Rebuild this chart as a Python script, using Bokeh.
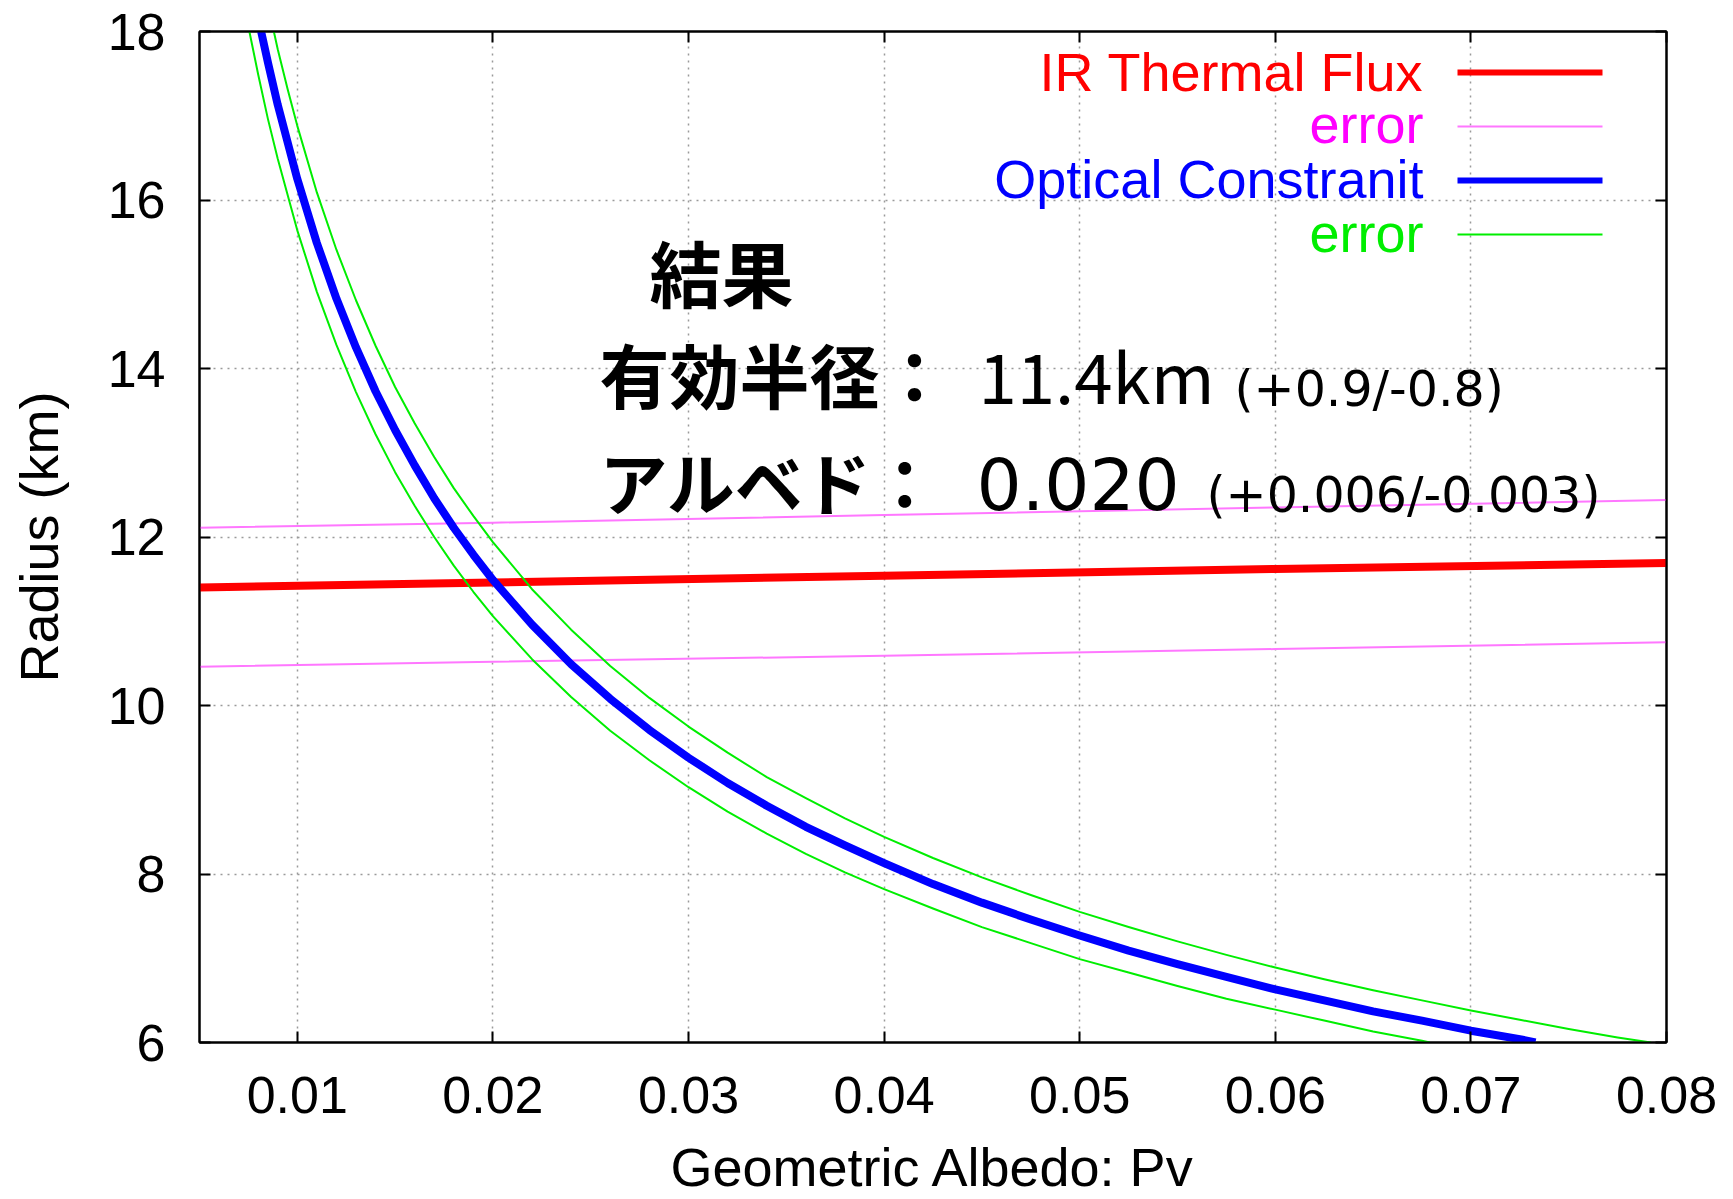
from bokeh.plotting import figure
from bokeh.models import Range1d, FixedTicker, LinearAxis, Label
from bokeh.embed import file_html
from bokeh.resources import INLINE

# ---------------- data ----------------
x_ticks = [0.01, 0.02, 0.03, 0.04, 0.05, 0.06, 0.07, 0.08]
y_ticks = [6, 8, 10, 12, 14, 16, 18]
x_title = "Geometric Albedo: Pv"
y_title = "Radius (km)"

# IR thermal flux solution and its error band
ir_pv = [0.005, 0.02, 0.04, 0.06, 0.08]
ir_radius = [11.40, 11.46, 11.54, 11.62, 11.69]
ir_err_hi = [12.11, 12.17, 12.26, 12.35, 12.44]
ir_err_lo = [10.46, 10.52, 10.59, 10.67, 10.75]

# Optical constraint curve
opt_pv = [0.00815, 0.0085, 0.009, 0.010, 0.011, 0.012, 0.013, 0.014, 0.015, 0.016,
          0.017, 0.018, 0.019, 0.020, 0.022, 0.024, 0.026, 0.028, 0.030, 0.032,
          0.034, 0.036, 0.038, 0.040, 0.0425, 0.045, 0.0475, 0.050, 0.0525, 0.055,
          0.0575, 0.060, 0.0625, 0.065, 0.0675, 0.070, 0.0725, 0.0733]
opt_radius = [18.00, 17.63, 17.13, 16.25, 15.49, 14.83, 14.25, 13.73, 13.27, 12.85,
              12.46, 12.11, 11.79, 11.49, 10.96, 10.49, 10.08, 9.71, 9.38, 9.08,
              8.81, 8.56, 8.34, 8.13, 7.88, 7.66, 7.46, 7.27, 7.09, 6.93,
              6.78, 6.63, 6.50, 6.37, 6.26, 6.14, 6.04, 6.00]

# Optical constraint error curves
opt_lo_pv = [0.00755, 0.008, 0.0085, 0.009, 0.010, 0.011, 0.012, 0.013, 0.014, 0.015,
             0.016, 0.017, 0.018, 0.019, 0.020, 0.022, 0.024, 0.026, 0.028, 0.030,
             0.032, 0.034, 0.036, 0.038, 0.040, 0.0425, 0.045, 0.0475, 0.050, 0.0525,
             0.055, 0.0575, 0.060, 0.0625, 0.065, 0.0675, 0.0679]
opt_lo_radius = [18.00, 17.49, 16.96, 16.49, 15.64, 14.91, 14.28, 13.72, 13.22, 12.77,
                 12.37, 12.00, 11.66, 11.35, 11.06, 10.55, 10.10, 9.70, 9.35, 9.03,
                 8.74, 8.48, 8.24, 8.02, 7.82, 7.59, 7.37, 7.18, 6.99, 6.83,
                 6.67, 6.52, 6.39, 6.26, 6.13, 6.02, 6.00]
opt_hi_pv = [0.0088, 0.009, 0.0095, 0.010, 0.011, 0.012, 0.013, 0.014, 0.015, 0.016,
             0.017, 0.018, 0.019, 0.020, 0.022, 0.024, 0.026, 0.028, 0.030, 0.032,
             0.034, 0.036, 0.038, 0.040, 0.0425, 0.045, 0.0475, 0.050, 0.0525, 0.055,
             0.0575, 0.060, 0.0625, 0.065, 0.0675, 0.070, 0.0725, 0.075, 0.0775, 0.0792]
opt_hi_radius = [18.00, 17.79, 17.32, 16.88, 16.09, 15.41, 14.81, 14.27, 13.78, 13.35,
                 12.95, 12.58, 12.25, 11.94, 11.38, 10.90, 10.47, 10.09, 9.75, 9.44,
                 9.15, 8.90, 8.66, 8.44, 8.19, 7.96, 7.75, 7.55, 7.37, 7.20,
                 7.04, 6.89, 6.75, 6.62, 6.50, 6.38, 6.27, 6.16, 6.06, 6.00]

legend_labels = ["IR Thermal Flux", "error", "Optical Constranit", "error"]

X0, X1 = 0.005, 0.08
Y0, Y1 = 6, 18

RED = "#ff0000"
PINK = "#ff77ff"
MAGENTA = "#ff00ff"
BLUE = "#0000ff"
GREEN = "#00ee00"

legend_text_colors = [RED, MAGENTA, BLUE, GREEN]
legend_line_colors = [RED, PINK, BLUE, GREEN]
legend_line_widths = [6, 2, 6, 2]

FONT = "Liberation Sans"
JP = "Noto Sans CJK JP"
NUM = "DejaVu Sans"

# frame position in page pixels (used only to place the annotations)
FL, FR, FT, FB = 199, 1666, 31, 1042

def dx(px):
    return X0 + (px - FL) / (FR - FL) * (X1 - X0)

def dy(py):
    return Y1 - (py - FT) / (FB - FT) * (Y1 - Y0)

p = figure(width=1733, height=1199, output_backend="svg", toolbar_location=None,
           x_range=Range1d(X0, X1), y_range=Range1d(Y0, Y1),
           min_border_left=FL, min_border_right=1733 - FR, min_border_top=FT,
           min_border_bottom=1199 - FB)
p.background_fill_color = "white"
p.border_fill_color = "white"
p.outline_line_color = "black"
p.outline_line_width = 2

def style_axis(ax, ticks, show_labels):
    ax.ticker = FixedTicker(ticks=ticks)
    ax.axis_line_color = "black"
    ax.axis_line_width = 2
    ax.major_tick_in = 11
    ax.major_tick_out = 0
    ax.major_tick_line_color = "black"
    ax.major_tick_line_width = 2
    ax.minor_tick_line_color = None
    ax.major_label_text_font = FONT
    ax.major_label_text_font_size = "52px"
    ax.major_label_text_color = "black" if show_labels else None

style_axis(p.xaxis[0], x_ticks, True)
style_axis(p.yaxis[0], y_ticks, True)
p.xaxis.major_label_standoff = 34
p.yaxis.major_label_standoff = 34
p.xaxis.axis_label = x_title
p.yaxis.axis_label = y_title
for ax in (p.xaxis[0], p.yaxis[0]):
    ax.axis_label_text_font = FONT
    ax.axis_label_text_font_size = "54px"
    ax.axis_label_text_font_style = "normal"
    ax.axis_label_text_color = "black"
p.xaxis.axis_label_standoff = 21
p.yaxis.axis_label_standoff = 36

top_ax = LinearAxis()
style_axis(top_ax, x_ticks, False)
top_ax.major_label_text_font_size = "1px"
p.add_layout(top_ax, "above")
right_ax = LinearAxis()
style_axis(right_ax, y_ticks, False)
right_ax.major_label_text_font_size = "1px"
p.add_layout(right_ax, "right")

p.xgrid.ticker = FixedTicker(ticks=x_ticks)
p.ygrid.ticker = FixedTicker(ticks=y_ticks)
for g in (p.xgrid[0], p.ygrid[0]):
    g.grid_line_color = "#9a9a9a"
    g.grid_line_dash = "2 5"
    g.grid_line_width = 1.5

# curves
p.line(ir_pv, ir_err_hi, line_color=PINK, line_width=2)
p.line(ir_pv, ir_err_lo, line_color=PINK, line_width=2)
p.line(ir_pv, ir_radius, line_color=RED, line_width=8)
p.line(opt_lo_pv, opt_lo_radius, line_color=GREEN, line_width=2, line_join="round")
p.line(opt_hi_pv, opt_hi_radius, line_color=GREEN, line_width=2, line_join="round")
p.line(opt_pv, opt_radius, line_color=BLUE, line_width=8, line_join="round")

# legend (gnuplot style: text on the left, sample line on the right)
legend_text_py = [71, 123, 178, 232]
legend_line_py = [72, 126, 180, 234]
for lab, tc, lc, lw, ty, ly in zip(legend_labels, legend_text_colors, legend_line_colors,
                                   legend_line_widths, legend_text_py, legend_line_py):
    p.add_layout(Label(x=dx(1423), y=dy(ty), text=lab, text_align="right",
                       text_baseline="alphabetic", text_font=FONT,
                       text_font_size="54px", text_color=tc))
    p.segment(x0=[dx(1457)], y0=[dy(ly)], x1=[dx(1602)], y1=[dy(ly)],
              line_color=lc, line_width=lw)

# result annotation: (text, left px, anchor px, size, style, font)
annots = [
    ("結果", 649, 270, "72px", "bold", JP),
    ("有効半径：", 599, 373, "70px", "bold", JP),
    ("11.4km", 978, 373, "69px", "normal", JP),
    ("(+0.9/-0.8)", 1234, 389, "49px", "normal", NUM),
    ("アルベド：", 599, 480, "68px", "bold", JP),
    ("0.020", 976, 483, "71px", "normal", NUM),
    ("(+0.006/-0.003)", 1206, 495, "49px", "normal", NUM),
]
for txt, lx, ly, size, style, font in annots:
    p.add_layout(Label(x=dx(lx), y=dy(ly), text=txt, text_align="left",
                       text_baseline="alphabetic", text_font=font,
                       text_font_size=size, text_font_style=style,
                       text_color="black"))

open("out.html", "w").write(file_html(p, INLINE))
